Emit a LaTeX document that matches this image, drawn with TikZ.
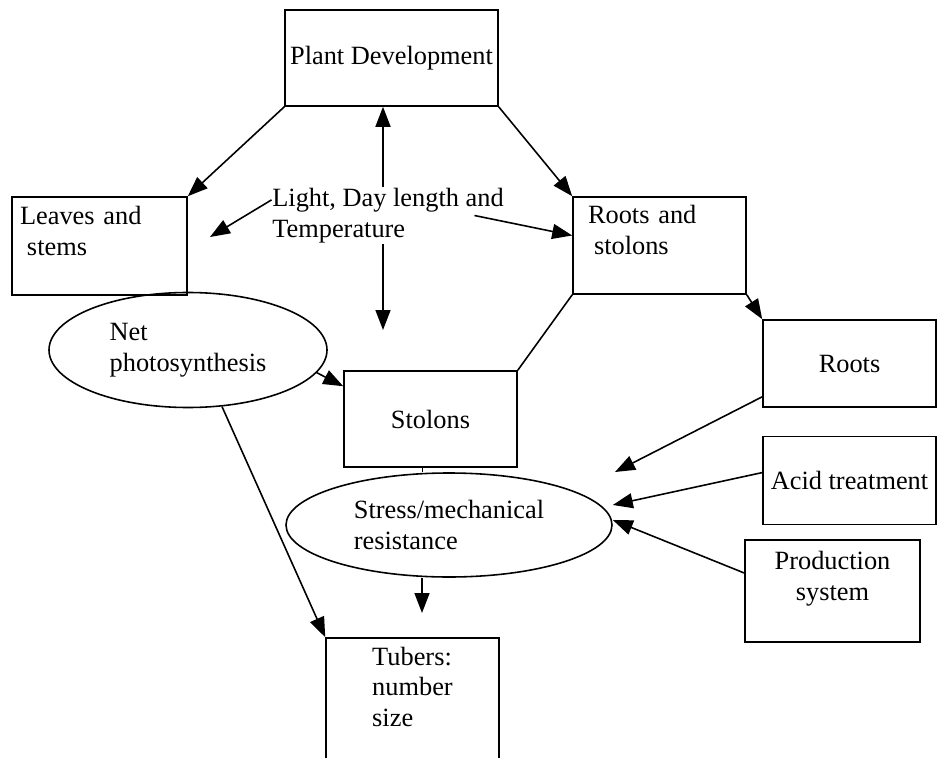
\documentclass[tikz,border=0pt]{standalone}
\usepackage{fontspec}
\setmainfont{Liberation Serif}
\usetikzlibrary{shapes.geometric, arrows.meta, positioning}

\begin{document}
\begin{tikzpicture}[node distance=0.56cm, line width=0.9pt,
	>={Triangle[length=0.4cm,width=0.3cm]},
	font=\fontsize{15}{17.5}\selectfont,
	box/.style={draw, rectangle, inner sep=0.1cm},
	oval/.style={draw, ellipse, align=left, inner sep=0pt}]
	\useasboundingbox (0,0) rectangle (18.74,-15.16);
	\node[box, minimum width=4.22cm, minimum height=1.92cm] (pd) at (7.83,-1.16) {Plant Development};
	\node[box, align=left, text width=3.18cm, inner xsep=0.16cm, minimum height=1.96cm] (leaves) at (1.99,-4.92) {Leaves and\\\hspace{0.14cm}stems\\ \mbox{}};
	\node[box, align=left, text width=2.86cm, inner xsep=0.3cm, minimum height=1.94cm] (rootsstolons) at (13.19,-4.91) {Roots and\\\hspace{0.12cm}stolons\\ \mbox{}};
	\node[align=left, inner sep=0pt] (light) at (7.76,-4.31) {Light, Day length and\\Temperature};
	\node[oval, minimum width=5.56cm, minimum height=2.3cm] (net) at (3.76,-7.0) {Net\\photosynthesis};
	\node[box, minimum width=3.46cm, minimum height=1.92cm] (stolons) at (8.61,-8.38) {Stolons};
	\node[box, minimum width=3.46cm, minimum height=1.74cm] (roots) at (16.99,-7.27) {Roots};
	\node[box, minimum width=3.46cm, minimum height=1.76cm, below=of roots] (acid) {Acid treatment};
	\node[box, align=center, minimum width=3.5cm, minimum height=2.04cm] (prod) at (16.65,-11.82) {Production\\system\\ \mbox{}};
	\node[oval, minimum width=6.52cm, minimum height=2.08cm] (stress) at (8.98,-10.5) {Stress/mechanical\\resistance};
	\node[box, align=left, minimum width=3.46cm, minimum height=2.56cm] (tubers) at (8.25,-14.04) {Tubers:\\number\\size\\ \mbox{}};
	\coordinate (down) at (7.66,-6.6);
	\coordinate (leftend) at (4.2,-4.74);
	\coordinate (rootsend) at (12.3,-9.44);
	\coordinate (tubarrow) at (8.44,-12.26);
	\foreach \from/\to in {pd.south west/leaves.north east, pd.south east/rootsstolons.north west, rootsstolons.south east/roots.north west, net.-59/tubers.north west}
		\draw[->] (\from) -- (\to);
	\draw[->] (light.north -| down) -- (pd.south -| down);
	\draw[->] (light.south -| down) -- (down);
	\draw[->] ([yshift=-0.25cm]light.north west) -- (leftend);
	\draw[->] ([xshift=-0.6cm]light.east) -- ([yshift=0.2cm]rootsstolons.west);
	\draw[->] (net.-10) -- ([yshift=-0.32cm]stolons.north west);
	\draw (rootsstolons.south west) -- (stolons.north east);
	\draw[->] ([yshift=0.22cm]roots.south west) -- (rootsend);
	\draw[->] ([yshift=0.16cm]acid.west) -- ([yshift=0.4cm]stress.east);
	\draw[->] ([yshift=0.36cm]prod.west) -- ([yshift=0.1cm]stress.east);
	\draw ([xshift=-0.16cm]stolons.south) -- ([xshift=-0.16cm]stolons.south |- stress.north);
	\draw[->] (stress.south -| tubarrow) -- (tubarrow);
\end{tikzpicture}
\end{document}
